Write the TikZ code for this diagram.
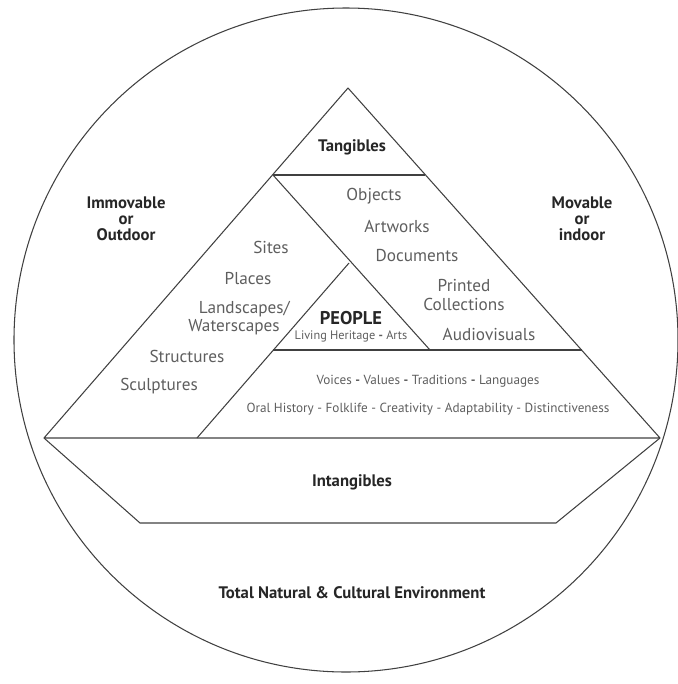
\documentclass[tikz,border=0pt]{standalone}
\usepackage{fontspec}
\setmainfont{PT Sans}
\usepackage{tikz}
\tikzset{>=latex}
\definecolor{labelgrey}{HTML}{5E5E5E}
\definecolor{headdark}{HTML}{262626}
\definecolor{edgegrey}{HTML}{404040}
\tikzset{
  heading/.style={font=\bfseries\fontsize{9.5}{10}\selectfont, text=headdark, align=center, inner sep=0pt},
  item/.style={font=\fontsize{9.8}{10.6}\selectfont, text=labelgrey, align=center, inner sep=0pt},
  smallitem/.style={font=\fontsize{7.5}{9}\selectfont, text=labelgrey, inner sep=0pt},
  edge/.style={edgegrey, line width=0.6pt, line join=round}
}

\begin{document}
\begin{tikzpicture}[x=0.02cm, y=-0.02cm]
            \useasboundingbox (0,0) rectangle (678,684);
            \draw[edge] (346,340) circle [radius=332];
            % pyramid corners
            \coordinate (apex) at (348,88);
            \coordinate (tl) at (273,175);
            \coordinate (tr) at (425,175);
            \coordinate (bl) at (44,438);
            \coordinate (br) at (660,438);
            \coordinate (pa) at (349,263);
            \coordinate (ml) at (273,350);
            \coordinate (mr) at (430,350);
            \coordinate (rr) at (582,350);
            \coordinate (bm) at (197,438);
            \coordinate (hl) at (140,523);
            \coordinate (hr) at (556,523);
            \draw[edge] (apex) -- (bl) -- (br) -- cycle;
            \draw[edge] (tl) -- (tr);
            \draw[edge] (tl) -- (mr);
            \draw[edge] (bm) -- (pa);
            \draw[edge] (ml) -- (rr);
            \draw[edge] (bl) -- (hl) -- (hr) -- (br);
            % headings
            \node[heading] (tangibles) at (352,147) {Tangibles};
            \node[heading] (immovable) at (126,219) {Immovable\\[-1pt]or\\[-1pt]Outdoor};
            \node[heading] (movable) at (582,219) {Movable\\[-1pt]or\\[-1pt]indoor};
            \node[heading] (intangibles) at (352,482) {Intangibles};
            \node[heading] (environment) at (352,593) {Total Natural \& Cultural Environment};
            % movable things
            \node[item] (objects) at (374,196) {Objects};
            \node[item] (artworks) at (397,226) {Artworks};
            \node[item] (documents) at (417,256) {Documents};
            \node[item] (printed) at (464,295) {Printed\\Collections};
            \node[item] (audiovisuals) at (489,334) {Audiovisuals};
            % immovable things
            \node[item] (sites) at (271,247) {Sites};
            \node[item] (places) at (248,279) {Places};
            \node[item] (landscapes) at (234,318) {\hspace*{1.2em}Landscapes/\\Waterscapes};
            \node[item] (structures) at (187,356) {Structures};
            \node[item] (sculptures) at (159,386) {Sculptures};
            % people
            \node[heading, font=\bfseries\fontsize{10.5}{11}\selectfont] (people) at (351,318) {PEOPLE};
            \node[smallitem, font=\fontsize{7}{8}\selectfont] (living) at (351,336) {Living Heritage \textbf{-} Arts};
            \node[smallitem] (voices) at (428,381) {Voices \textbf{-} Values \textbf{-} Traditions \textbf{-} Languages};
            \node[smallitem] (oral) at (428,409) {Oral History - Folklife - Creativity - Adaptability - Distinctiveness};
        \end{tikzpicture}
\end{document}
